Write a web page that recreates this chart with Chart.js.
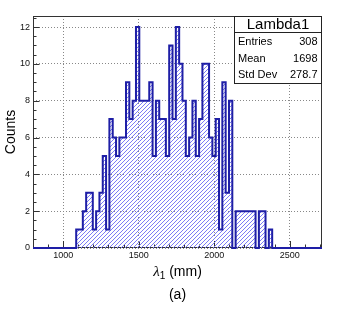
<!DOCTYPE html>
<html>
<head>
<meta charset="utf-8">
<script src="https://cdn.jsdelivr.net/npm/chart.js@4.4.1/dist/chart.umd.min.js"></script>
<style>
  html, body { margin: 0; padding: 0; background: #fff; }
  canvas { display: block; }
</style>
</head>
<body>
<canvas id="hist" width="346" height="312"></canvas>
<script>
// binning of the histogram (mm)
const xMin = 800;
const xMax = 2714;
const binWidth = 22;

// counts per bin (87 bins from 800 to 2714)
const counts = [
  0, 0, 0, 0, 0, 0, 0, 0, 0, 0, 0, 0, 0,
  1, 1, 2, 3, 3, 1, 2, 3, 5, 1, 7, 6, 5,
  6, 6, 9, 7, 8, 12, 8, 8, 8, 9, 5, 8, 7, 7, 5, 11, 7, 12, 10, 8, 5,
  6, 8, 5, 7, 10, 10, 6, 5, 7, 1, 9, 3, 8,
  0, 2, 2, 2, 2, 2, 2, 0, 2, 2, 0, 1,
  0, 0, 0, 0, 0, 0, 0, 0, 0, 0, 0, 0, 0, 0, 0
];

const xTicks = [1000, 1500, 2000, 2500];
const yTicks = [0, 2, 4, 6, 8, 10, 12];
const yMax = 12.6;

const statsTitle = 'Lambda1';
const statsLabels = ['Entries', 'Mean', 'Std Dev'];
const statsValues = ['308', '1698', '278.7'];

Chart.defaults.font.family = "'Liberation Sans', Arial, sans-serif";
Chart.defaults.color = '#111';

// step points: one per bin lower edge, plus the upper edge of the last bin
const points = counts.map((c, i) => ({ x: xMin + i * binWidth, y: c }));
points.push({ x: xMax, y: counts[counts.length - 1] });

// frame and ROOT-like inward ticks, drawn under the histogram
const frameAndTicks = {
  id: 'frameAndTicks',
  beforeDatasetsDraw(chart) {
    const { ctx, chartArea: a, scales: { x, y } } = chart;
    ctx.save();
    ctx.strokeStyle = '#333';
    ctx.lineWidth = 1;
    ctx.beginPath();
    for (let v = 800; v <= 2700; v += 100) {
      const px = Math.round(x.getPixelForValue(v)) + 0.5;
      const len = xTicks.includes(v) ? 7 : 3.5;
      ctx.moveTo(px, a.bottom);
      ctx.lineTo(px, a.bottom - len);
    }
    for (let v = 0; v <= 12.5; v += 0.5) {
      const py = Math.round(y.getPixelForValue(v)) + 0.5;
      const len = v % 2 === 0 ? 6.5 : 3.5;
      ctx.moveTo(a.left, py);
      ctx.lineTo(a.left + len, py);
    }
    ctx.stroke();
    ctx.strokeRect(a.left + 0.5, a.top + 0.5, a.right - a.left - 1, a.bottom - a.top - 1);
    ctx.restore();
  }
};

// "///" hatch under the step outline, clipped to the histogram shape
const hatchFill = {
  id: 'hatchFill',
  beforeDatasetsDraw(chart) {
    const { ctx, chartArea: a, scales: { y } } = chart;
    const pts = chart.getDatasetMeta(0).data;
    const y0 = y.getPixelForValue(0);
    ctx.save();
    ctx.beginPath();
    ctx.moveTo(pts[0].x, y0);
    for (let i = 0; i < pts.length; i++) {
      if (i > 0) ctx.lineTo(pts[i].x, pts[i - 1].y);
      ctx.lineTo(pts[i].x, pts[i].y);
    }
    ctx.lineTo(pts[pts.length - 1].x, y0);
    ctx.closePath();
    ctx.clip();
    const h = a.bottom - a.top;
    ctx.strokeStyle = '#7c7cf5';
    ctx.lineWidth = 1;
    ctx.beginPath();
    for (let d = a.left - h; d < a.right; d += 4) {
      ctx.moveTo(d, a.bottom);
      ctx.lineTo(d + h, a.top);
    }
    ctx.stroke();
    ctx.restore();
  }
};

// axis titles and caption
const axisTitles = {
  id: 'axisTitles',
  afterDraw(chart) {
    const { ctx, chartArea: a } = chart;
    const cx = (a.left + a.right) / 2;
    ctx.save();
    ctx.fillStyle = '#000';
    ctx.textBaseline = 'middle';

    const fSym = 'italic 15px "Liberation Serif"';
    const fSub = '10px "Liberation Sans"';
    const fTxt = '14px "Liberation Sans"';
    ctx.font = fSym;
    const wL = ctx.measureText('\u03bb').width;
    ctx.font = fSub;
    const w1 = ctx.measureText('1').width;
    ctx.font = fTxt;
    const wT = ctx.measureText(' (mm)').width;
    let xx = cx - (wL + w1 + wT) / 2;
    const ty = a.bottom + 24;
    ctx.textAlign = 'left';
    ctx.font = fSym;
    ctx.fillText('\u03bb', xx, ty);
    xx += wL;
    ctx.font = fSub;
    ctx.fillText('1', xx, ty + 4);
    xx += w1;
    ctx.font = fTxt;
    ctx.fillText(' (mm)', xx, ty);

    ctx.textAlign = 'center';
    ctx.fillText('(a)', cx, a.bottom + 47);

    ctx.translate(11, (a.top + a.bottom) / 2);
    ctx.rotate(-Math.PI / 2);
    ctx.fillText('Counts', 0, 0);
    ctx.restore();
  }
};

// statistics box in the top right corner
const statsBox = {
  id: 'statsBox',
  afterDraw(chart) {
    const { ctx, chartArea: a } = chart;
    const left = 234.5, right = a.right - 0.5, top = a.top + 0.5, bottom = 83.5, sep = 32.5;
    ctx.save();
    ctx.fillStyle = '#fff';
    ctx.fillRect(left, top, right - left, bottom - top);
    ctx.strokeStyle = '#222';
    ctx.lineWidth = 1;
    ctx.strokeRect(left, top, right - left, bottom - top);
    ctx.beginPath();
    ctx.moveTo(left, sep);
    ctx.lineTo(right, sep);
    ctx.stroke();

    ctx.fillStyle = '#000';
    ctx.textBaseline = 'middle';
    ctx.textAlign = 'center';
    ctx.font = '15px "Liberation Sans"';
    ctx.fillText(statsTitle, (left + right) / 2, (top + sep) / 2 + 0.5);

    ctx.font = '11px "Liberation Sans"';
    const rowY = [42, 58.5, 75];
    statsLabels.forEach((label, i) => {
      ctx.textAlign = 'left';
      ctx.fillText(label, left + 3.5, rowY[i]);
      ctx.textAlign = 'right';
      ctx.fillText(statsValues[i], right - 4, rowY[i]);
    });
    ctx.restore();
  }
};

const ctx = document.getElementById('hist').getContext('2d');
new Chart(ctx, {
  type: 'line',
  data: {
    datasets: [{
      label: statsTitle,
      data: points,
      stepped: true,
      borderColor: '#1e1ea6',
      borderWidth: 2,
      fill: false,
      pointRadius: 0,
      tension: 0,
      clip: false,
    }],
  },
  options: {
    responsive: false,
    animation: false,
    devicePixelRatio: 1,
    layout: { padding: { left: 0, top: 16, right: 24, bottom: 0 } },
    plugins: {
      legend: { display: false },
      tooltip: { enabled: false },
    },
    scales: {
      x: {
        type: 'linear',
        min: xMin,
        max: xMax,
        afterBuildTicks: (scale) => { scale.ticks = xTicks.map(v => ({ value: v })); },
        afterFit: (scale) => { scale.height = 64; },
        ticks: {
          callback: (v) => String(v),
          font: { size: 9 },
          padding: 2,
          maxRotation: 0,
          autoSkip: false,
        },
        grid: { color: '#888', lineWidth: 1, drawTicks: false },
        border: { display: false, dash: [1, 2] },
      },
      y: {
        min: 0,
        max: yMax,
        afterBuildTicks: (scale) => { scale.ticks = yTicks.map(v => ({ value: v })); },
        afterFit: (scale) => { scale.width = 33; },
        ticks: {
          callback: (v) => String(v),
          font: { size: 9 },
          padding: 3,
        },
        grid: { color: '#888', lineWidth: 1, drawTicks: false },
        border: { display: false, dash: [1, 2] },
      },
    },
  },
  plugins: [frameAndTicks, hatchFill, axisTitles, statsBox],
});
</script>
</body>
</html>
